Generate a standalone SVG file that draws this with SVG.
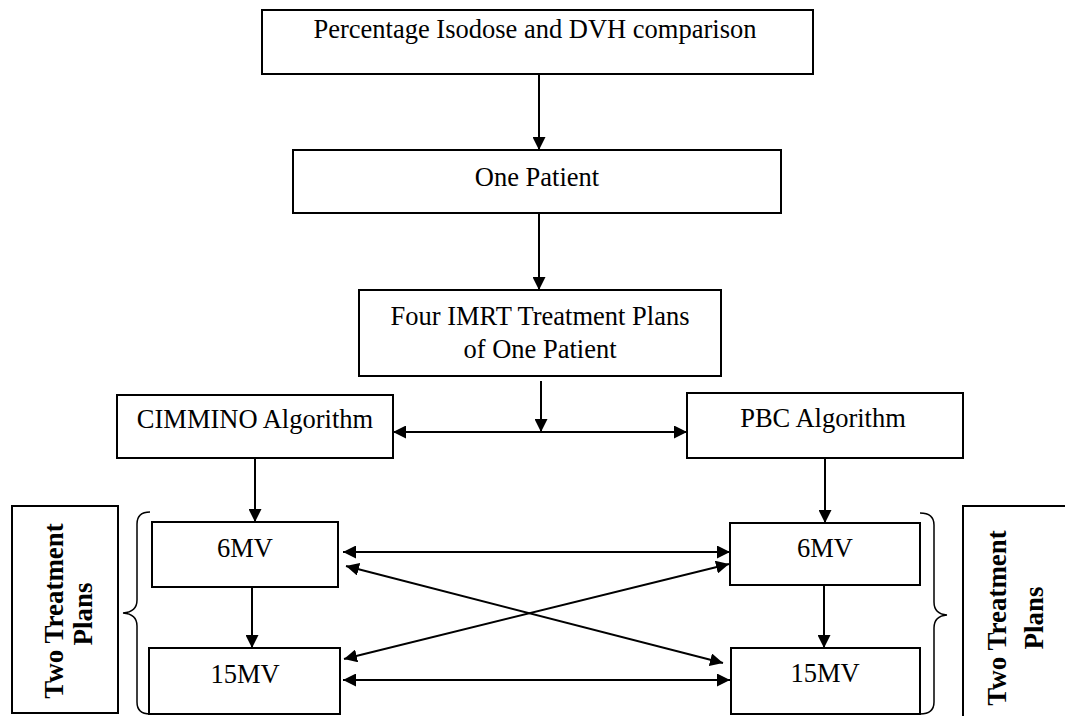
<svg xmlns="http://www.w3.org/2000/svg" width="1065" height="716" viewBox="0 0 1065 716">
<defs>
<style>
.box{fill:#fff;stroke:#000;stroke-width:2}
.t{font-family:"Liberation Serif","Times New Roman",serif;font-size:26.5px;fill:#000;text-anchor:middle}
.b{font-family:"Liberation Serif","Times New Roman",serif;font-size:27px;font-weight:bold;fill:#000;text-anchor:middle}
.c{stroke:#000;stroke-width:2;fill:none}
.br{stroke:#000;stroke-width:1.5;fill:none}
</style>
<marker id="ah" viewBox="0 0 12 12" refX="12" refY="6" markerWidth="13" markerHeight="13" markerUnits="userSpaceOnUse" orient="auto-start-reverse">
<path d="M0,0 L12,6 L0,12 Z" fill="#000"/>
</marker>
</defs>
<rect width="1065" height="716" fill="#fff"/>
<g id="n-top"><rect class="box" x="262" y="10" width="551" height="64"/><text class="t" x="535" y="38">Percentage Isodose and DVH comparison</text></g>
<g id="n-patient"><rect class="box" x="293" y="150" width="488" height="63"/><text class="t" x="537" y="186">One Patient</text></g>
<g id="n-four"><rect class="box" x="359" y="290" width="362" height="86"/><text class="t" x="540" y="325">Four IMRT Treatment Plans</text><text class="t" x="540" y="358">of One Patient</text></g>
<g id="n-cimmino"><rect class="box" x="117" y="395" width="276" height="63"/><text class="t" x="255" y="428">CIMMINO Algorithm</text></g>
<g id="n-pbc"><rect class="box" x="687" y="393" width="276" height="65"/><text class="t" x="823" y="427">PBC Algorithm</text></g>
<g id="n-l6"><rect class="box" x="152" y="522" width="186" height="65"/><text class="t" x="245" y="557">6MV</text></g>
<g id="n-l15"><rect class="box" x="149" y="648" width="191" height="66"/><text class="t" x="245" y="683">15MV</text></g>
<g id="n-r6"><rect class="box" x="730" y="523" width="190" height="62"/><text class="t" x="825" y="557">6MV</text></g>
<g id="n-r15"><rect class="box" x="731" y="648" width="189" height="66"/><text class="t" x="825" y="682">15MV</text></g>
<g id="n-lab-l"><rect class="box" x="12" y="506" width="106" height="207"/><text class="b" transform="translate(63,611) rotate(-90)">Two Treatment</text><text class="b" transform="translate(92,614) rotate(-90)">Plans</text></g>
<g id="n-lab-r"><rect class="box" x="963" y="506" width="110" height="215"/><text class="b" transform="translate(1006,618) rotate(-90)">Two Treatment</text><text class="b" transform="translate(1043,618) rotate(-90)">Plans</text></g>
<g id="braces">
<path class="br" d="M150,512 Q137,512 137,524 L137,600 Q137,612 123,613 Q137,614 137,626 L137,702 Q137,714 150,714"/>
<path class="br" d="M920,513 Q934,513 934,525 L934,602 Q934,614 947,615 Q934,616 934,628 L934,702 Q934,714 920,714"/>
</g>
<g id="connectors">
<line class="c" x1="539" y1="74" x2="539" y2="150" marker-end="url(#ah)"/>
<line class="c" x1="539" y1="213" x2="539" y2="290" marker-end="url(#ah)"/>
<line class="c" x1="541" y1="381" x2="541" y2="432" marker-end="url(#ah)"/>
<line class="c" x1="393" y1="432" x2="687" y2="432" marker-start="url(#ah)" marker-end="url(#ah)"/>
<line class="c" x1="255" y1="458" x2="255" y2="522" marker-end="url(#ah)"/>
<line class="c" x1="825" y1="458" x2="825" y2="523" marker-end="url(#ah)"/>
<line class="c" x1="252" y1="587" x2="252" y2="648" marker-end="url(#ah)"/>
<line class="c" x1="824" y1="585" x2="824" y2="648" marker-end="url(#ah)"/>
<line class="c" x1="343" y1="552" x2="730" y2="552" marker-start="url(#ah)" marker-end="url(#ah)"/>
<line class="c" x1="343" y1="680" x2="730" y2="680" marker-start="url(#ah)" marker-end="url(#ah)"/>
<line class="c" x1="346" y1="566" x2="723" y2="663" marker-start="url(#ah)" marker-end="url(#ah)"/>
<line class="c" x1="729" y1="564" x2="344" y2="659" marker-start="url(#ah)" marker-end="url(#ah)"/>
</g>
</svg>
